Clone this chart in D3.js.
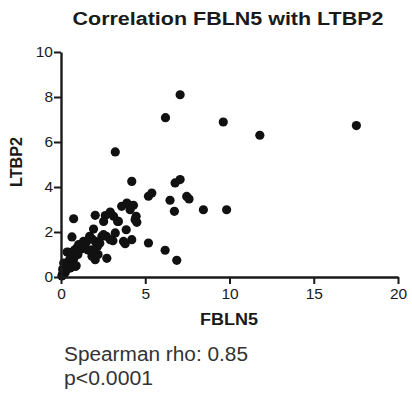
<!DOCTYPE html>
<html>
<head>
<meta charset="utf-8">
<script src="https://cdn.jsdelivr.net/npm/d3@7"></script>
<style>
  body { margin: 0; background: #fff; }
  svg { display: block; font-family: 'Liberation Sans', Arial, sans-serif; }
</style>
</head>
<body>
<div id="chart"></div>
<script>
// FBLN5 (x) vs LTBP2 (y)
let fbln5 = [
    0.05, 0.1, 0.15, 0.2, 0.25, 0.3, 0.35, 0.1, 0.4, 0.45, 0.5, 0.55, 0.6, 0.65, 0.7, 0.75,
    0.8, 0.9, 0.95, 1.0, 1.1, 0.45, 0.36, 0.65, 0.75, 1.05, 1.34, 1.2, 0.3, 0.16, 0.85, 0.55,
    1.7, 1.84, 2.03, 1.84, 2.03, 2.16, 1.93, 2.03, 2.72, 2.43, 2.69, 2.53, 2.63, 2.92, 3.12, 3.36,
    3.22, 3.08, 3.6, 3.91, 4.07, 4.3, 4.1, 3.87, 3.81, 4.2, 4.46, 4.5, 4.2, 5.19, 5.39, 5.19,
    6.18, 6.87, 6.47, 6.73, 6.77, 7.07, 7.46, 7.6, 8.45, 9.83, 3.22, 6.2, 7.07, 9.63, 11.8, 17.53,
    1.5, 2.3, 2.92, 3.41, 2.52, 2.92, 3.71, 1.74, 1.84, 2.13, 1.84, 4.4, 1.6, 2.2
]
let ltbp2 = [
    0.05, 0.15, 0.1, 0.3, 0.2, 0.45, 0.35, 0.35, 0.6, 0.5, 0.75, 0.4, 0.9, 0.65, 1.05, 0.8,
    1.2, 0.5, 1.3, 1.0, 1.4, 1.1, 1.11, 1.78, 2.59, 1.44, 1.59, 1.25, 0.55, 0.62, 0.47, 1.07,
    1.81, 1.69, 1.59, 1.07, 0.77, 1.36, 2.13, 2.74, 0.83, 1.81, 1.81, 2.47, 2.73, 2.89, 2.7, 2.47,
    1.96, 1.61, 3.14, 3.29, 3.19, 3.19, 2.99, 2.1, 1.48, 1.66, 2.7, 2.43, 4.25, 3.59, 3.73, 1.51,
    1.19, 0.74, 3.41, 2.92, 4.18, 4.33, 3.58, 3.47, 2.99, 2.99, 5.56, 7.08, 8.1, 6.89, 6.3, 6.73,
    1.55, 1.5, 2.84, 2.47, 1.88, 1.66, 1.58, 1.73, 1.21, 1.36, 0.92, 2.55, 1.2, 1.0
]
let xTicks = [0, 5, 10, 15, 20]
let yTicks = [0, 2, 4, 6, 8, 10]
let titleText = 'Correlation FBLN5 with LTBP2'
let xLabel = 'FBLN5'
let yLabel = 'LTBP2'
let statLines = ['Spearman rho: 0.85', 'p<0.0001']

let points = fbln5.map((v, i) => ({ x: v, y: ltbp2[i] }))

let svgWidth = 412,
    svgHeight = 394,
    margin = { top: 52, right: 14, bottom: 117, left: 61 },
    chartWidth = svgWidth - margin.left - margin.right,
    chartHeight = svgHeight - margin.top - margin.bottom

let svg = d3.select('#chart')
    .append('svg')
    .attr('width', svgWidth)
    .attr('height', svgHeight)

let x = d3.scaleLinear().domain([0, 20]).range([0, chartWidth])
let y = d3.scaleLinear().domain([0, 10]).range([chartHeight, 0])

let g = svg.append('g')
    .attr('transform', `translate(${margin.left},${margin.top})`)

// dots first, axes on top
g.selectAll('.dot')
    .data(points)
    .enter().append('circle')
    .attr('class', 'dot')
    .attr('cx', d => x(d.x))
    .attr('cy', d => y(d.y))
    .attr('r', 4.6)
    .attr('fill', '#111')

let xAxis = g.append('g')
    .attr('transform', `translate(0,${chartHeight})`)
    .call(d3.axisBottom(x).tickValues(xTicks).tickSize(7).tickSizeOuter(0).tickPadding(4))

let yAxis = g.append('g')
    .call(d3.axisLeft(y).tickValues(yTicks).tickSize(7).tickSizeOuter(0).tickPadding(1))

;[xAxis, yAxis].forEach(a => {
    a.select('.domain').attr('stroke', '#1a1a1a').attr('stroke-width', 2.4)
    a.selectAll('.tick line').attr('stroke', '#1a1a1a').attr('stroke-width', 2)
    a.selectAll('.tick text')
        .attr('fill', '#1a1a1a')
        .attr('font-size', '15.5px')
        .attr('font-family', "'Liberation Sans', Arial, sans-serif")
})

// title
svg.append('text')
    .attr('x', 228)
    .attr('y', 25)
    .attr('text-anchor', 'middle')
    .attr('font-size', '17.5px')
    .attr('font-weight', 'bold')
    .attr('fill', '#1a1a1a')
    .attr('textLength', 311)
    .attr('lengthAdjust', 'spacingAndGlyphs')
    .text(titleText)

// axis labels
svg.append('text')
    .attr('x', 229)
    .attr('y', 325)
    .attr('text-anchor', 'middle')
    .attr('font-size', '16px')
    .attr('font-weight', 'bold')
    .attr('fill', '#1a1a1a')
    .attr('textLength', 58)
    .attr('lengthAdjust', 'spacingAndGlyphs')
    .text(xLabel)

svg.append('text')
    .attr('transform', 'translate(22,162) rotate(-90)')
    .attr('text-anchor', 'middle')
    .attr('font-size', '17px')
    .attr('font-weight', 'bold')
    .attr('fill', '#1a1a1a')
    .attr('textLength', 50)
    .attr('lengthAdjust', 'spacingAndGlyphs')
    .text(yLabel)

// stats note under the plot
svg.selectAll('.stat')
    .data(statLines)
    .enter().append('text')
    .attr('class', 'stat')
    .attr('x', 64)
    .attr('y', (d, i) => 361 + i * 24)
    .attr('font-size', '20px')
    .attr('fill', '#333')
    .attr('textLength', (d, i) => i === 0 ? 184 : 89)
    .attr('lengthAdjust', 'spacingAndGlyphs')
    .text(d => d)
</script>
</body>
</html>
